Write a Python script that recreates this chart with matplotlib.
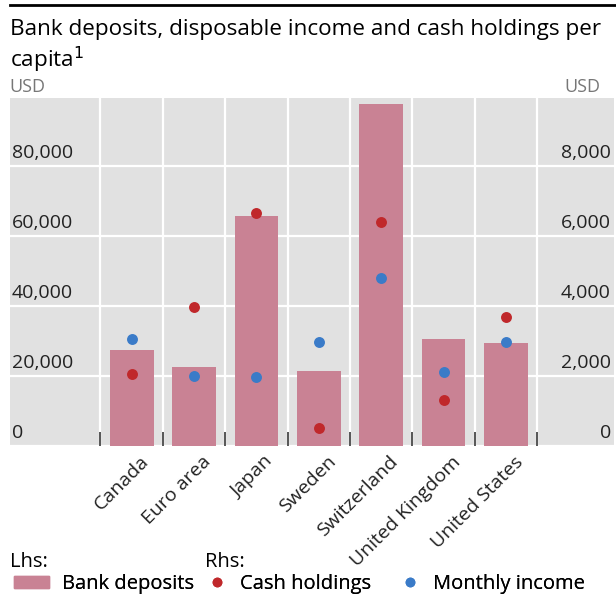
import matplotlib
matplotlib.use("Agg")
import matplotlib.pyplot as plt
import matplotlib.transforms as mtransforms
from matplotlib.patches import Patch
from matplotlib.lines import Line2D
import numpy as np

plt.rcParams['font.family'] = ['Open Sans', 'DejaVu Sans']

countries = ["Canada", "Euro area", "Japan", "Sweden", "Switzerland",
             "United Kingdom", "United States"]
# lhs, USD
bank_deposits = [27400, 22700, 65700, 21500, 97700, 30500, 29300]
# rhs, USD
cash_holdings = [2060, 3960, 6650, 520, 6410, 1310, 3680]
monthly_income = [3050, 2000, 1960, 2980, 4790, 2120, 2960]

lhs_ticks = [0, 20000, 40000, 60000, 80000]
rhs_ticks = [0, 2000, 4000, 6000, 8000]

bar_col = "#c98294"
red = "#c0282b"
blue = "#3a7bc8"
bg = "#e1e1e1"

fig = plt.figure(figsize=(6.16, 5.99), dpi=100)
ax = fig.add_axes([10/616, 153/599, 604/616, 348/599])
ax2 = ax.twinx()

x = np.arange(len(countries))
ax.set_facecolor(bg)
ax.bar(x, bank_deposits, width=0.7, color=bar_col, zorder=2)
ax2.scatter(x, cash_holdings, s=62, color=red, zorder=3, linewidths=0)
ax2.scatter(x, monthly_income, s=62, color=blue, zorder=3, linewidths=0)

ax.set_xlim(-1.95, 7.73)
ax.set_ylim(0, 99400)
ax2.set_ylim(0, 9940)

for s in list(ax.spines.values()) + list(ax2.spines.values()):
    s.set_visible(False)

# gridlines
for v in lhs_ticks:
    ax.axhline(v, color="white", lw=1.6, zorder=1)
bounds = np.arange(len(countries) + 1) - 0.5
for b in bounds:
    ax.axvline(b, color="white", lw=1.6, zorder=1)

# category labels, drawn as text so they can sit right of the bar centre
ax.set_xticks(bounds)
ax.set_xticklabels([])
ax.tick_params(axis="x", direction="in", length=10, width=1.4, color="#555555")
lab_tr = mtransforms.offset_copy(ax.get_xaxis_transform(), fig=fig, x=14, y=-13, units="dots")
for i, name in enumerate(countries):
    ax.text(x[i], 0, name, transform=lab_tr, rotation=45, ha="right", va="center",
            rotation_mode="anchor", fontsize=14, color="#222222")
ax.set_yticks([])
ax2.set_yticks([])

off = mtransforms.offset_copy(ax.get_yaxis_transform(), fig=fig, x=0, y=13, units="dots")
for v in lhs_ticks:
    ax.text(0.003, v, f"{v:,}", transform=off, ha="left", va="center",
            fontsize=14, color="#222222")
off2 = mtransforms.offset_copy(ax2.get_yaxis_transform(), fig=fig, x=0, y=13, units="dots")
for v in rhs_ticks:
    ax2.text(0.995, v, f"{v:,}", transform=off2, ha="right", va="center",
             fontsize=14, color="#222222")

# title and units
fig.add_artist(Line2D([10/616, 1], [1 - 5/599, 1 - 5/599], color="black", lw=2))
fig.text(10/616, 1 - 29/599, "Bank deposits, disposable income and cash holdings per",
         fontsize=16.2, va="center", ha="left")
fig.text(10/616, 1 - 60/599, "capita$^1$", fontsize=16.2, va="center", ha="left")
fig.text(9/616, 1 - 87/599, "USD", fontsize=13, color="#777777", va="center")
fig.text(600/616, 1 - 87/599, "USD", fontsize=13, color="#777777", va="center", ha="right")

# legend
fig.text(10/616, 1 - 562/599, "Lhs:", fontsize=14.5, va="center")
fig.text(205/616, 1 - 562/599, "Rhs:", fontsize=14.5, va="center")
leg_y = 1 - 584/599
items = [
    (Patch(color=bar_col), "Bank deposits", 14, 1.75, 0.5),
    (Line2D([], [], marker="o", ls="", color=red, markersize=6), "Cash holdings", 207, 1.0, 0.7),
    (Line2D([], [], marker="o", ls="", color=blue, markersize=6), "Monthly income", 400, 1.0, 0.7),
]
for h, lbl, x0, hl, hh in items:
    lg = fig.legend([h], [lbl], loc="center left", bbox_to_anchor=(x0/616, leg_y),
                    frameon=False, fontsize=14.5, handlelength=hl, handleheight=hh,
                    handletextpad=0.65, borderaxespad=0, borderpad=0)
    fig.add_artist(lg)

fig.savefig("out.png", dpi=100)
